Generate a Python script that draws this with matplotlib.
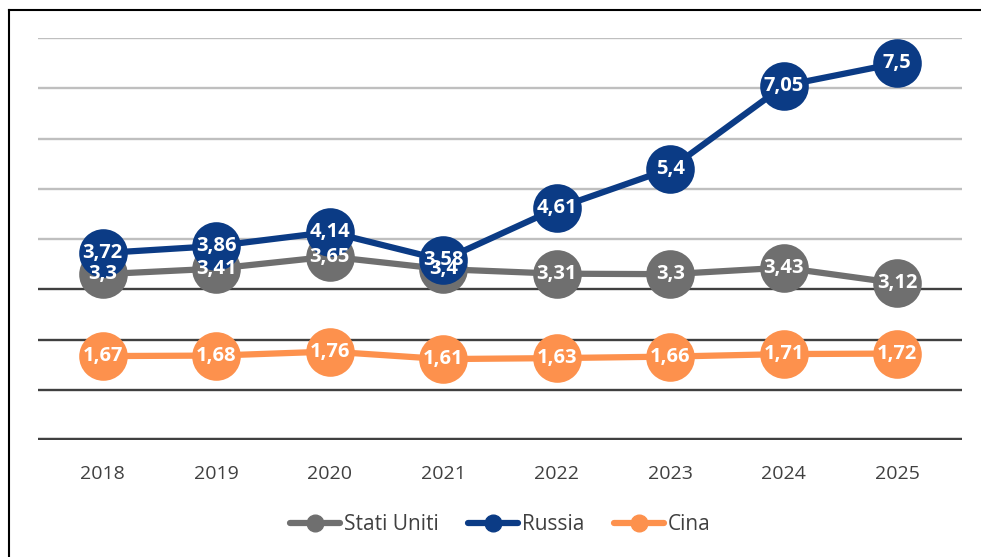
import matplotlib
matplotlib.use("Agg")
import matplotlib.pyplot as plt
from matplotlib.lines import Line2D

years = ["2018", "2019", "2020", "2021", "2022", "2023", "2024", "2025"]
usa = [3.3, 3.41, 3.65, 3.4, 3.31, 3.3, 3.43, 3.12]
russia = [3.72, 3.86, 4.14, 3.58, 4.61, 5.4, 7.05, 7.5]
cina = [1.67, 1.68, 1.76, 1.61, 1.63, 1.66, 1.71, 1.72]
series_names = ["Stati Uniti", "Russia", "Cina"]
colors = ["#6f6f6f", "#0b3b85", "#fd914d"]

plt.rcParams['font.family'] = ['Open Sans', 'DejaVu Sans']

fig = plt.figure(figsize=(9.81, 5.57), dpi=100)
ax = fig.add_axes([38/981, (557-440)/557, (962-38)/981, (440-38)/557])

x = list(range(len(years)))
ax.set_xlim(-0.57, len(years) - 1 + 0.57)
ax.set_ylim(0, 8)

# gridlines
for yv in range(1, 9):
    c = "#404040" if yv <= 3 else "#bfbfbf"
    ax.axhline(yv, color=c, lw=1.7, zorder=0)
ax.axhline(0, color="#404040", lw=3.2, zorder=1)

data = [usa, russia, cina]
for i, (vals, col) in enumerate(zip(data, colors)):
    ax.plot(x, vals, color=col, lw=4.5, marker="o", markersize=35,
            markeredgewidth=0, zorder=3 + i, solid_capstyle="round")
for i, (vals, col) in enumerate(zip(data, colors)):
    for xi, v in zip(x, vals):
        ax.text(xi, v, f"{v:g}".replace(".", ","), ha="center", va="center",
                color="white", fontsize=14.5, fontweight="bold", zorder=10)

for s in ax.spines.values():
    s.set_visible(False)
ax.set_yticks([])
ax.set_xticks(x)
ax.set_xticklabels(years, fontsize=14, color="#404040")
ax.tick_params(axis="x", length=0, pad=18)

handles = [Line2D([0], [0], color=c, lw=4.5, marker="o", markersize=12,
                  solid_capstyle="round") for c in colors]
fig.legend(handles, series_names, loc="center", bbox_to_anchor=(0.51, 32/557),
           ncol=3, frameon=False, fontsize=15, labelcolor="#404040",
           handlelength=2.4, handletextpad=0.2, columnspacing=1.4)

# border lines (top and left)
fig.add_artist(Line2D([9/981, 1.0], [1 - 10/557, 1 - 10/557], color="black", lw=1.5,
                      transform=fig.transFigure))
fig.add_artist(Line2D([9/981, 9/981], [0, 1 - 10/557], color="black", lw=1.5,
                      transform=fig.transFigure))

fig.savefig("out.png", dpi=100)
